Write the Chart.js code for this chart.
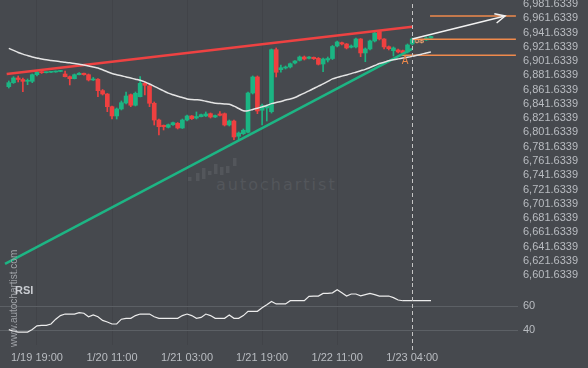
<!DOCTYPE html>
<html>
<head>
<meta charset="utf-8">
<script src="https://cdn.jsdelivr.net/npm/chart.js@4.4.1/dist/chart.umd.min.js"></script>
<style>
  html, body { margin: 0; padding: 0; background: #46494e; }
  #wrap { position: relative; width: 588px; height: 368px; overflow: hidden; }
  #mainBox { position: absolute; left: 0; top: 0; width: 588px; height: 283px; }
  #rsiBox { position: absolute; left: 0; top: 283px; width: 588px; height: 85px; }
  #mark { position: absolute; left: 216px; top: 177px; font: 16px "DejaVu Sans", sans-serif;
          line-height: 16px; letter-spacing: 2px; color: #53565b; white-space: nowrap; }
  #site { position: absolute; left: 8px; top: 347px; font: 10px "Liberation Sans", Arial, sans-serif;
          line-height: 11px; color: #9fa2a7; white-space: nowrap;
          transform: rotate(-90deg); transform-origin: left top; }
  #rsiTitle { position: absolute; left: 15px; top: 284px; font: bold 11px "Liberation Sans", Arial, sans-serif;
              color: #c9ccd1; }
</style>
</head>
<body>
<div id="wrap">
  <div id="mark">autochartist</div>
  <div id="mainBox"><canvas id="mainCanvas" width="588" height="283"></canvas></div>
  <div id="rsiBox"><canvas id="rsiCanvas" width="588" height="85"></canvas></div>
  <div id="site">www.autochartist.com</div>
  <div id="rsiTitle">RSI</div>
</div>
<script>
/* =========================
   Data (hourly bars, index 0..90)
========================= */
const opens = [
  6865.9, 6871.5, 6878.1, 6875.9, 6873.4, 6873.4, 6882.7, 6886.5, 6885.5, 6886.1,
  6886.5, 6887.2, 6883.7, 6879.9, 6877.1, 6882.7, 6884.7, 6882.7, 6875.3, 6876.3,
  6860.3, 6855.6, 6837.8, 6824.8, 6834.6, 6843.0, 6854.6, 6839.8, 6851.8, 6870.6,
  6866.9, 6842.6, 6819.1, 6811.7, 6808.9, 6812.5, 6814.5, 6807.9, 6819.1, 6824.8,
  6821.9, 6823.8, 6824.8, 6828.0, 6823.3, 6827.6, 6828.0, 6812.1, 6817.7, 6796.3,
  6799.9, 6801.9, 6857.0, 6879.5, 6832.8, 6836.0, 6830.8, 6917.8, 6889.7, 6892.1,
  6893.5, 6899.1, 6902.9, 6907.5, 6905.7, 6907.1, 6905.7, 6897.7, 6903.3, 6905.4,
  6923.0, 6927.6, 6925.8, 6921.2, 6921.6, 6932.8, 6913.2, 6918.8, 6930.0, 6943.3,
  6932.8, 6922.0, 6916.4, 6917.4, 6916.4, 6914.6, 6925.8, 6932.1, 6930.7, 6931.4,
  6934.2
];
const highs = [
  6873.9, 6879.9, 6880.9, 6878.1, 6876.7, 6883.7, 6887.2, 6887.2, 6886.5, 6887.2,
  6887.9, 6888.6, 6887.9, 6880.9, 6883.7, 6885.5, 6885.1, 6883.7, 6878.8, 6877.1,
  6861.9, 6856.3, 6838.8, 6836.0, 6845.8, 6858.4, 6855.6, 6858.4, 6879.9, 6872.5,
  6868.3, 6844.4, 6820.5, 6812.1, 6813.5, 6816.3, 6815.6, 6820.5, 6826.1, 6825.4,
  6830.4, 6827.6, 6830.4, 6829.0, 6826.1, 6830.8, 6829.0, 6819.1, 6819.1, 6802.3,
  6806.5, 6858.4, 6880.9, 6880.9, 6841.6, 6840.2, 6918.8, 6920.2, 6896.3, 6894.9,
  6899.1, 6902.6, 6908.9, 6908.9, 6908.2, 6907.5, 6906.8, 6906.1, 6907.5, 6923.7,
  6930.0, 6928.6, 6926.5, 6924.4, 6934.2, 6933.5, 6920.2, 6931.4, 6942.6, 6944.7,
  6933.5, 6923.0, 6921.6, 6918.8, 6917.4, 6925.8, 6934.2, 6932.8, 6931.4, 6935.6,
  6937.0
];
const lows = [
  6864.0, 6870.4, 6872.5, 6858.9, 6868.7, 6871.5, 6880.9, 6884.4, 6885.1, 6885.4,
  6886.1, 6886.8, 6879.5, 6868.3, 6876.7, 6882.3, 6881.9, 6873.9, 6874.6, 6851.8,
  6854.2, 6830.8, 6820.5, 6820.5, 6833.2, 6841.6, 6837.8, 6838.8, 6851.4, 6854.2,
  6837.8, 6812.1, 6798.1, 6805.1, 6807.9, 6811.4, 6806.5, 6807.2, 6817.7, 6819.8,
  6820.5, 6823.3, 6824.0, 6821.9, 6822.6, 6824.8, 6810.7, 6810.7, 6791.5, 6791.1,
  6798.8, 6800.9, 6855.6, 6828.0, 6812.1, 6817.7, 6828.9, 6879.5, 6886.1, 6890.7,
  6892.1, 6897.7, 6901.9, 6903.3, 6904.7, 6904.0, 6896.3, 6886.9, 6900.5, 6904.0,
  6921.6, 6924.4, 6918.8, 6920.2, 6920.2, 6908.0, 6900.9, 6917.4, 6928.6, 6931.4,
  6918.8, 6917.4, 6908.9, 6913.2, 6911.8, 6913.2, 6924.4, 6927.2, 6927.2, 6930.7,
  6933.5
];
const closes = [
  6871.5, 6878.1, 6875.9, 6873.4, 6873.9, 6882.7, 6886.5, 6885.5, 6886.1, 6886.5,
  6887.2, 6887.9, 6879.9, 6877.1, 6882.7, 6884.7, 6882.7, 6875.3, 6876.3, 6860.3,
  6855.6, 6837.8, 6824.8, 6834.6, 6843.4, 6852.8, 6839.8, 6856.6, 6870.6, 6867.8,
  6842.6, 6819.1, 6809.7, 6809.7, 6812.5, 6815.4, 6807.9, 6819.1, 6824.8, 6821.0,
  6824.0, 6826.6, 6827.6, 6823.3, 6825.4, 6825.7, 6812.1, 6817.7, 6795.3, 6800.9,
  6804.7, 6857.0, 6879.5, 6831.8, 6839.2, 6838.8, 6917.8, 6886.1, 6892.5, 6893.5,
  6898.1, 6901.9, 6907.5, 6904.7, 6907.5, 6905.2, 6897.3, 6904.7, 6905.4, 6922.3,
  6928.6, 6925.8, 6920.2, 6923.0, 6932.8, 6913.2, 6918.8, 6930.0, 6941.2, 6932.8,
  6921.6, 6919.2, 6920.2, 6914.6, 6913.6, 6924.4, 6932.8, 6927.9, 6927.9, 6934.2,
  6936.3
];
const movingAvg = [
  6919.6, 6916.8, 6913.9, 6911.5, 6909.5, 6907.5, 6906.1, 6904.7, 6903.5, 6902.6,
  6901.8, 6900.9, 6900.2, 6899.3, 6898.4, 6897.5, 6896.2, 6894.9, 6893.5, 6892.0,
  6889.6, 6886.8, 6884.4, 6882.7, 6881.2, 6879.5, 6878.0, 6876.4, 6874.9, 6872.6,
  6869.7, 6866.4, 6863.2, 6860.0, 6856.9, 6854.6, 6852.5, 6850.7, 6848.7, 6847.9,
  6847.5, 6846.9, 6845.4, 6844.0, 6842.6, 6842.2, 6841.7, 6841.2, 6838.5, 6835.3,
  6832.1, 6832.2, 6833.9, 6835.6, 6837.5, 6839.5, 6842.1, 6843.8, 6845.1, 6847.1,
  6848.6, 6850.7, 6853.8, 6856.9, 6860.0, 6863.3, 6866.6, 6869.7, 6873.2, 6876.8,
  6878.9, 6880.7, 6882.4, 6884.2, 6886.2, 6888.2, 6890.2, 6892.8, 6895.5, 6898.3,
  6900.2, 6902.2, 6903.7, 6904.9, 6906.0, 6907.1, 6908.4, 6909.9, 6911.5, 6913.2,
  6914.7
];
const rsiValues = [
  40.3, 39, 38.3, 38.3, 38.3, 40.5, 43.5, 43.9, 43.9, 45,
  49, 52, 53.3, 53.3, 53.3, 54.5, 54, 51, 52.5, 51,
  48, 46.7, 45, 45, 49, 49.7, 49.7, 52, 53.3, 53.3,
  53.3, 51, 49.7, 49.7, 49.7, 49.7, 49.7, 52, 53.3, 52,
  49.7, 50.5, 53.3, 52, 49.7, 49.7, 49.7, 52.5, 49.7, 49.7,
  52, 55.5, 55.6, 55.6, 58.5, 61, 63.8, 61.7, 61.7, 61.7,
  64.4, 64.4, 64.4, 64.4, 68, 68.3, 68.3, 70.5, 70.6, 71,
  73.5, 71, 68.3, 70, 70, 68.5, 69.5, 70.5, 69.5, 68.3,
  68.3, 68.3, 67, 65, 64.4, 64.4, 64.4, 64.4, 64.4, 64.4,
  64.4
];

const tickIndex = [6, 22, 38, 54, 70, 86];
const tickLabels = ["1/19 19:00", "1/20 11:00", "1/21 03:00", "1/21 19:00", "1/22 11:00", "1/23 04:00"];
const priceTicks = [
  6601.6339, 6621.6339, 6641.6339, 6661.6339, 6681.6339, 6701.6339, 6721.6339,
  6741.6339, 6761.6339, 6781.6339, 6801.6339, 6821.6339, 6841.6339, 6861.6339,
  6881.6339, 6901.6339, 6921.6339, 6941.6339, 6961.6339, 6981.6339
];
const rsiTicks = [40, 60];

// pattern lines
const resistanceX = [-0.45, 86];
const resistanceY = [6883.7, 6950.1];
const supportX = [-0.8, 86];
const supportY = [6617.1, 6918.8];
const projectionX = [86, 105.8];
const projectionY = [6932.8, 6965.1];
const levelValues = [6965.1, 6932.4, 6909.9];
const levelStarts = [89.8, 86, 83.6];
const levelEnd = 108.1;
const signalIndex = 86;
const markerPoint = { x: 84.5, y: 6901.9, text: "A" };

/* =========================
   Style
========================= */
const GREEN = "#1bb583";
const RED = "#ef4040";
const ORANGE = "#ef8a4c";
const TEXT = "#b9bcc1";
const FONT = { family: "'Liberation Sans', Arial, sans-serif", size: 11 };
const X_MIN = -1.876, X_MAX = 108.55;

function candleColor(i) {
  return closes[i] >= opens[i] ? GREEN : RED;
}
function isHollow(i) {
  return i > signalIndex && closes[i] < opens[i];
}

// keep the plot area edge to edge: drop the label overflow padding
function fixWidth(s) {
  s.width = 70;
  s.paddingTop = 0;
  s.paddingBottom = 0;
}

const xScaleBase = {
  type: "linear",
  min: X_MIN,
  max: X_MAX,
  offset: false,
  afterBuildTicks: (s) => { s.ticks = tickIndex.map(v => ({ value: v })); },
  grid: { color: "rgba(0,0,0,0.07)", drawTicks: false, offset: false },
  border: { display: false }
};

function pairLine(xs, ys) {
  return xs.map((x, i) => ({ x: x, y: ys[i] }));
}

/* =========================
   Main overlay plugin
========================= */
const overlayPlugin = {
  id: "overlay",
  beforeDatasetsDraw(chart) {
    // watermark logo bars
    const ctx = chart.ctx;
    const bars = [[188, 177, 181], [196, 173, 181], [202, 168, 179], [208, 171, 175],
                  [214, 164, 174], [220, 167, 175], [226, 166, 173], [233, 158, 166]];
    ctx.save();
    ctx.fillStyle = "#53565b";
    bars.forEach(b => ctx.fillRect(b[0], b[1], 3.5, b[2] - b[1]));
    ctx.restore();
  },
  afterDatasetsDraw(chart) {
    const { ctx, scales: { x, y } } = chart;
    ctx.save();
    // signal line
    const sx = Math.round(x.getPixelForValue(signalIndex)) + 0.5;
    ctx.strokeStyle = "#c4c4c4";
    ctx.lineWidth = 1;
    ctx.setLineDash([4, 3]);
    ctx.beginPath();
    ctx.moveTo(sx, 4);
    ctx.lineTo(sx, chart.height);
    ctx.stroke();
    ctx.setLineDash([]);

    // arrow head on projection
    const x0 = x.getPixelForValue(projectionX[0]), y0 = y.getPixelForValue(projectionY[0]);
    const x1 = x.getPixelForValue(projectionX[1]), y1 = y.getPixelForValue(projectionY[1]);
    const ang = Math.atan2(y1 - y0, x1 - x0);
    ctx.strokeStyle = "#f2f2f2";
    ctx.lineWidth = 1.5;
    ctx.beginPath();
    ctx.moveTo(x1 - 11 * Math.cos(ang - 0.45), y1 - 11 * Math.sin(ang - 0.45));
    ctx.lineTo(x1, y1);
    ctx.lineTo(x1 - 11 * Math.cos(ang + 0.45), y1 - 11 * Math.sin(ang + 0.45));
    ctx.stroke();

    // marker
    ctx.fillStyle = ORANGE;
    ctx.font = "10px 'Liberation Sans', Arial, sans-serif";
    ctx.textAlign = "center";
    ctx.textBaseline = "middle";
    ctx.fillText(markerPoint.text, x.getPixelForValue(markerPoint.x), y.getPixelForValue(markerPoint.y));
    ctx.restore();
  }
};

const rsiPlugin = {
  id: "rsiSignal",
  afterDatasetsDraw(chart) {
    const { ctx, scales: { x } } = chart;
    const sx = Math.round(x.getPixelForValue(signalIndex)) + 0.5;
    ctx.save();
    ctx.strokeStyle = "#c4c4c4";
    ctx.lineWidth = 1;
    ctx.setLineDash([4, 3]);
    ctx.beginPath();
    ctx.moveTo(sx, 0);
    ctx.lineTo(sx, 67);
    ctx.stroke();
    ctx.restore();
  }
};

/* =========================
   Main price chart
========================= */
const lineCommon = { type: "line", pointRadius: 0, fill: false, order: 0 };

const datasets = [
  {
    type: "bar",
    data: lows.map((l, i) => ({ x: i, y: [l, highs[i]] })),
    backgroundColor: lows.map((l, i) => isHollow(i) ? "#e8a070" : candleColor(i)),
    barThickness: 1,
    grouped: false,
    order: 2
  },
  {
    type: "bar",
    data: opens.map((o, i) => ({ x: i, y: [o, closes[i]] })),
    backgroundColor: opens.map((o, i) => isHollow(i) ? "#46494e" : candleColor(i)),
    borderColor: opens.map((o, i) => isHollow(i) ? "#e8a070" : candleColor(i)),
    borderWidth: opens.map((o, i) => isHollow(i) ? 1 : 0),
    borderSkipped: false,
    barThickness: 4,
    minBarLength: 1,
    grouped: false,
    order: 1
  },
  { ...lineCommon, data: movingAvg.map((v, i) => ({ x: i, y: v })), borderColor: "#e4e4e4", borderWidth: 1.5, tension: 0.3 },
  { ...lineCommon, data: pairLine(resistanceX, resistanceY), borderColor: "#ee4242", borderWidth: 2.5 },
  { ...lineCommon, data: pairLine(supportX, supportY), borderColor: "#1db584", borderWidth: 2.5 },
  { ...lineCommon, data: pairLine(projectionX, projectionY), borderColor: "#f2f2f2", borderWidth: 1.5 }
];
levelValues.forEach((v, k) => {
  datasets.push({ ...lineCommon, data: [{ x: levelStarts[k], y: v }, { x: levelEnd, y: v }], borderColor: ORANGE, borderWidth: 1.5 });
});

new Chart(document.getElementById("mainCanvas"), {
  type: "bar",
  data: { datasets: datasets },
  options: {
    responsive: false,
    animation: false,
    layout: { padding: 0 },
    plugins: { legend: { display: false }, tooltip: { enabled: false } },
    scales: {
      x: {
        ...xScaleBase,
        ticks: { display: false },
        afterFit: (s) => { s.height = 0; s.paddingLeft = 0; s.paddingRight = 0; }
      },
      y: {
        position: "right",
        min: 6590.4,
        max: 6987.5,
        afterBuildTicks: (s) => { s.ticks = priceTicks.map(v => ({ value: v })); },
        afterFit: fixWidth,
        grid: { display: false, drawTicks: false },
        border: { display: false },
        ticks: {
          color: TEXT,
          font: FONT,
          padding: 5,
          autoSkip: false,
          callback: (v) => Number(v).toLocaleString("en-US", { minimumFractionDigits: 4, maximumFractionDigits: 4 })
        }
      }
    }
  },
  plugins: [overlayPlugin]
});

/* =========================
   RSI chart
========================= */
new Chart(document.getElementById("rsiCanvas"), {
  type: "line",
  data: {
    datasets: [{
      data: rsiValues.map((v, i) => ({ x: i, y: v })),
      borderColor: "#ececec",
      borderWidth: 1.2,
      pointRadius: 0,
      fill: false
    }]
  },
  options: {
    responsive: false,
    animation: false,
    layout: { padding: 0 },
    plugins: { legend: { display: false }, tooltip: { enabled: false } },
    scales: {
      x: {
        ...xScaleBase,
        afterFit: (s) => { s.height = 23; s.paddingLeft = 0; s.paddingRight = 0; },
        ticks: {
          color: TEXT,
          font: FONT,
          padding: 6,
          autoSkip: false,
          maxRotation: 0,
          callback: (v) => tickLabels[tickIndex.indexOf(v)]
        }
      },
      y: {
        position: "right",
        min: 27.5,
        max: 79.17,
        afterBuildTicks: (s) => { s.ticks = rsiTicks.map(v => ({ value: v })); },
        afterFit: fixWidth,
        grid: { color: "#5c6065", drawTicks: false },
        border: { display: false },
        ticks: { color: TEXT, font: FONT, padding: 5, autoSkip: false }
      }
    }
  },
  plugins: [rsiPlugin]
});
</script>
</body>
</html>
